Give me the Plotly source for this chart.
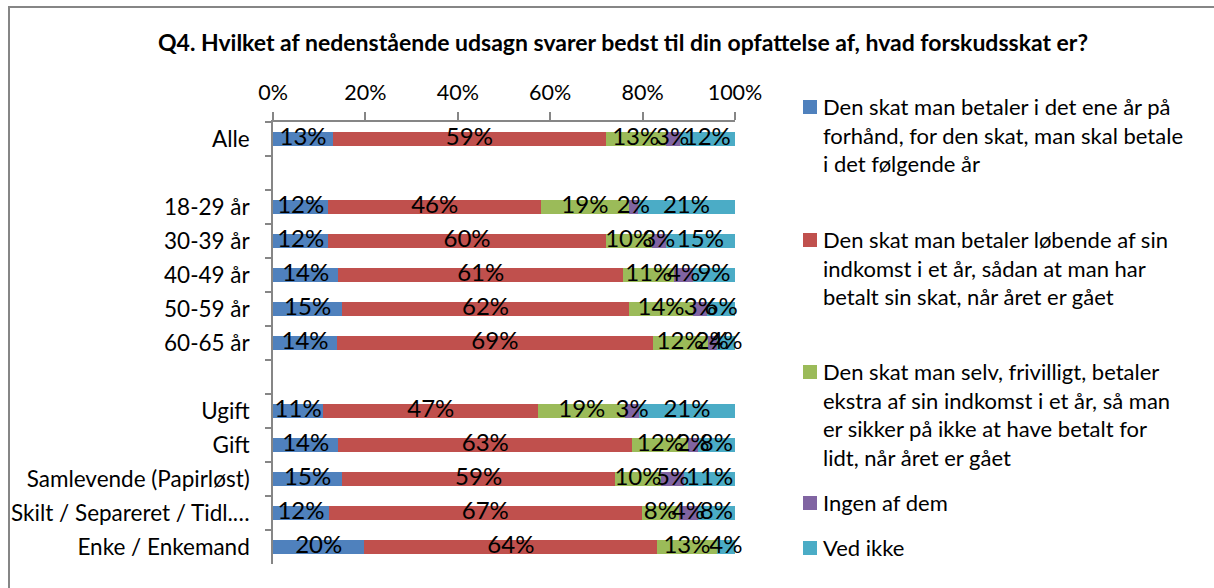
import plotly.graph_objects as go

# ---------------- data ----------------
categories = ["Alle", " ", "18-29 år", "30-39 år", "40-49 år", "50-59 år", "60-65 år", "  ",
              "Ugift", "Gift", "Samlevende (Papirløst)", "Skilt / Separeret / Tidl.…", "Enke / Enkemand"]

s_forhaand = [13, None, 12, 12, 14, 15, 14, None, 11, 14, 15, 12, 20]
s_loebende = [59, None, 46, 60, 61, 62, 69, None, 47, 63, 59, 67, 64]
s_frivillig = [13, None, 19, 10, 11, 14, 12, None, 19, 12, 10, 8, 13]
s_ingen = [3, None, 2, 3, 4, 3, 2, None, 3, 2, 5, 4, 0]
s_vedikke = [12, None, 21, 15, 9, 6, 4, None, 21, 8, 11, 8, 4]

series_names = [
    "Den skat man betaler i det ene år på<br>forhånd, for den skat, man skal betale<br>i det følgende år",
    "Den skat man betaler løbende af sin<br>indkomst i et år, sådan at man har<br>betalt sin skat, når året er gået",
    "Den skat man selv, frivilligt, betaler<br>ekstra af sin indkomst i et år, så man<br>er sikker på ikke at have betalt for<br>lidt, når året er gået",
    "Ingen af dem",
    "Ved ikke",
]
series_values = [s_forhaand, s_loebende, s_frivillig, s_ingen, s_vedikke]
colors = ["#4F81BD", "#C0504D", "#9BBB59", "#8064A2", "#4BACC6"]

x_ticks = [0, 20, 40, 60, 80, 100]
x_tick_labels = ["0%", "20%", "40%", "60%", "80%", "100%"]
title = "Q4. Hvilket af nedenstående udsagn svarer bedst til din opfattelse af, hvad forskudsskat er?"

FONT = "Lato"

# ---------------- normalise (100% stacked) ----------------
row_sums = []
for i in range(len(categories)):
    vals = [s[i] for s in series_values if s[i] is not None]
    row_sums.append(sum(vals) if vals else None)

norm = []
for s in series_values:
    norm.append([None if (v is None or row_sums[i] is None) else v / row_sums[i] * 100
                 for i, v in enumerate(s)])

fig = go.Figure()
for k, (name, vals) in enumerate(zip(series_names, norm)):
    fig.add_trace(go.Bar(
        y=categories, x=vals, orientation="h", name=name.replace("<br>", " "),
        marker=dict(color=colors[k], line=dict(width=0)),
        showlegend=False, hoverinfo="skip",
    ))

# data labels on top of all bars
lab_x, lab_y, lab_t = [], [], []
for i, cat in enumerate(categories):
    cum = 0.0
    for k in range(len(series_values)):
        v = series_values[k][i]
        nv = norm[k][i]
        if v is None:
            continue
        if v > 0:
            lab_x.append(cum + nv / 2)
            lab_y.append(cat)
            lab_t.append(f"{v}%")
        cum += nv

fig.add_trace(go.Scatter(
    x=lab_x, y=lab_y, text=lab_t, mode="text", textposition="middle center",
    textfont=dict(family=FONT, size=24, color="#000000"),
    showlegend=False, hoverinfo="skip", cliponaxis=False,
))

W, H = 1214, 588
L, R, T, B = 273, 735, 122, 564


def px_x(p):
    return (p - L) / (R - L)


def px_y(p):
    return (B - p) / (B - T)


# ---------------- legend (drawn as annotations + swatches) ----------------
legend_first_line_y = [107, 240, 372, 503, 548]
LEG_FS = 22
shapes = [dict(type="rect", xref="paper", yref="paper",
               x0=px_x(9), x1=px_x(W + 20), y0=px_y(H + 20), y1=px_y(7),
               line=dict(color="#868686", width=2), fillcolor="rgba(0,0,0,0)", layer="below")]
annotations = []
for k, name in enumerate(series_names):
    cy = legend_first_line_y[k]
    shapes.append(dict(type="rect", xref="paper", yref="paper",
                       x0=px_x(803), x1=px_x(817), y0=px_y(cy + 7), y1=px_y(cy - 7),
                       line=dict(width=0), fillcolor=colors[k], layer="above"))
    annotations.append(dict(text=name, xref="paper", yref="paper",
                            x=px_x(822), y=px_y(cy - 15), xanchor="left", yanchor="top",
                            align="left", showarrow=False, borderpad=0,
                            font=dict(family=FONT, size=LEG_FS, color="#000000")))

fig.update_layout(
    width=W, height=H,
    margin=dict(l=L, r=W - R, t=T, b=H - B, pad=0),
    paper_bgcolor="white", plot_bgcolor="white",
    barmode="stack", bargap=0.6, showlegend=False,
    font=dict(family=FONT, size=20, color="#000000"),
    title=dict(text=f"<b>{title}</b>", x=623 / W, xref="container", xanchor="center",
               y=1 - 43 / H, yref="container", yanchor="middle",
               font=dict(family=FONT, size=23, color="#000000")),
    xaxis=dict(
        side="top", range=[0, 100], tickvals=x_ticks, ticktext=x_tick_labels,
        ticks="outside", ticklen=8, tickcolor="#868686", tickwidth=1.5,
        showline=True, linecolor="#868686", linewidth=1.5,
        showgrid=False, zeroline=False, ticklabelstandoff=4, automargin=False,
        tickfont=dict(family=FONT, size=21.5, color="#000000"),
    ),
    yaxis=dict(
        categoryorder="array", categoryarray=categories, range=[len(categories) - 0.5, -0.5],
        tickson="boundaries", ticks="outside", ticklen=6, tickcolor="#868686", tickwidth=1.5,
        showline=True, linecolor="#868686", linewidth=1.5,
        showgrid=False, zeroline=False, ticklabelstandoff=17, automargin=False,
        tickfont=dict(family=FONT, size=22.5, color="#000000"),
    ),
    shapes=shapes,
    annotations=annotations,
)

fig.write_html("out.html", config={"displayModeBar": False},
               post_script="document.body.style.margin='0';document.body.style.padding='0';")
